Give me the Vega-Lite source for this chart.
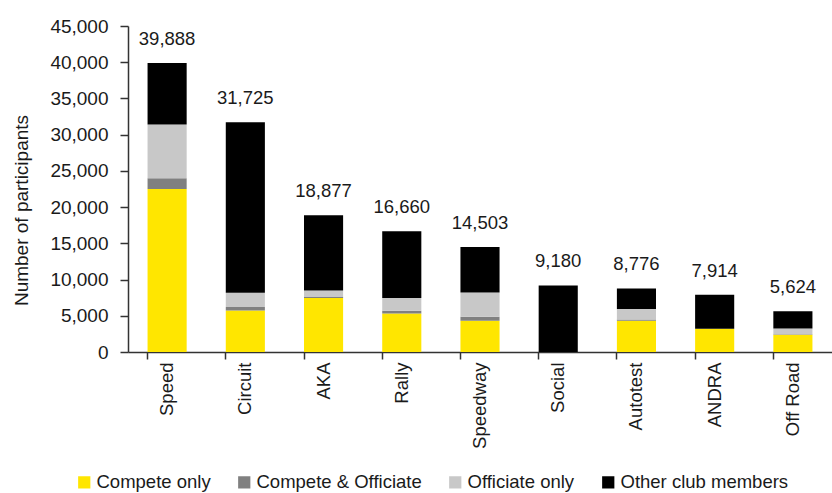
{
  "$schema": "https://vega.github.io/schema/vega-lite/v6.json",
  "width": 704,
  "height": 326,
  "autosize": {"type": "none"},
  "padding": {"left": 128, "top": 26, "right": 0, "bottom": 141},
  "background": "white",
  "config": {
    "view": {"stroke": null},
    "font": "Liberation Sans",
    "axis": {"labelFont": "Liberation Sans", "titleFont": "Liberation Sans", "labelColor": "#1a1a1a", "titleColor": "#1a1a1a", "domainColor": "#333333", "tickColor": "#333333", "grid": false, "titleFontWeight": "normal"},
    "legend": {"labelFont": "Liberation Sans", "labelColor": "#1a1a1a"}
  },
  "datasets": {
    "segments": [
      {"category": "Speed", "type": "Compete only", "ord": 1, "value": 22500},
      {"category": "Speed", "type": "Compete & Officiate", "ord": 2, "value": 1500},
      {"category": "Speed", "type": "Officiate only", "ord": 3, "value": 7400},
      {"category": "Speed", "type": "Other club members", "ord": 4, "value": 8488},
      {"category": "Circuit", "type": "Compete only", "ord": 1, "value": 5740},
      {"category": "Circuit", "type": "Compete & Officiate", "ord": 2, "value": 460},
      {"category": "Circuit", "type": "Officiate only", "ord": 3, "value": 1980},
      {"category": "Circuit", "type": "Other club members", "ord": 4, "value": 23545},
      {"category": "AKA", "type": "Compete only", "ord": 1, "value": 7450},
      {"category": "AKA", "type": "Compete & Officiate", "ord": 2, "value": 140},
      {"category": "AKA", "type": "Officiate only", "ord": 3, "value": 910},
      {"category": "AKA", "type": "Other club members", "ord": 4, "value": 10377},
      {"category": "Rally", "type": "Compete only", "ord": 1, "value": 5330},
      {"category": "Rally", "type": "Compete & Officiate", "ord": 2, "value": 370},
      {"category": "Rally", "type": "Officiate only", "ord": 3, "value": 1750},
      {"category": "Rally", "type": "Other club members", "ord": 4, "value": 9210},
      {"category": "Speedway", "type": "Compete only", "ord": 1, "value": 4320},
      {"category": "Speedway", "type": "Compete & Officiate", "ord": 2, "value": 550},
      {"category": "Speedway", "type": "Officiate only", "ord": 3, "value": 3350},
      {"category": "Speedway", "type": "Other club members", "ord": 4, "value": 6283},
      {"category": "Social", "type": "Compete only", "ord": 1, "value": 0},
      {"category": "Social", "type": "Compete & Officiate", "ord": 2, "value": 0},
      {"category": "Social", "type": "Officiate only", "ord": 3, "value": 0},
      {"category": "Social", "type": "Other club members", "ord": 4, "value": 9180},
      {"category": "Autotest", "type": "Compete only", "ord": 1, "value": 4320},
      {"category": "Autotest", "type": "Compete & Officiate", "ord": 2, "value": 180},
      {"category": "Autotest", "type": "Officiate only", "ord": 3, "value": 1430},
      {"category": "Autotest", "type": "Other club members", "ord": 4, "value": 2846},
      {"category": "ANDRA", "type": "Compete only", "ord": 1, "value": 3210},
      {"category": "ANDRA", "type": "Compete & Officiate", "ord": 2, "value": 0},
      {"category": "ANDRA", "type": "Officiate only", "ord": 3, "value": 0},
      {"category": "ANDRA", "type": "Other club members", "ord": 4, "value": 4704},
      {"category": "Off Road", "type": "Compete only", "ord": 1, "value": 2390},
      {"category": "Off Road", "type": "Compete & Officiate", "ord": 2, "value": 50},
      {"category": "Off Road", "type": "Officiate only", "ord": 3, "value": 820},
      {"category": "Off Road", "type": "Other club members", "ord": 4, "value": 2364}
    ],
    "totals": [
      {"category": "Speed", "total": 39888},
      {"category": "Circuit", "total": 31725},
      {"category": "AKA", "total": 18877},
      {"category": "Rally", "total": 16660},
      {"category": "Speedway", "total": 14503},
      {"category": "Social", "total": 9180},
      {"category": "Autotest", "total": 8776},
      {"category": "ANDRA", "total": 7914},
      {"category": "Off Road", "total": 5624}
    ]
  },
  "layer": [
    {
      "data": {"name": "segments"},
      "mark": {"type": "bar"},
      "encoding": {
        "x": {
          "field": "category", "type": "nominal",
          "sort": ["Speed", "Circuit", "AKA", "Rally", "Speedway", "Social", "Autotest", "ANDRA", "Off Road"],
          "scale": {"paddingInner": 0.5, "paddingOuter": 0.25},
          "axis": {"title": null, "labelAngle": -90, "labelAlign": "right", "labelBaseline": "middle", "labelFontSize": 18.5, "labelPadding": 3, "tickSize": 7, "bandPosition": 0, "domainWidth": 1.5, "tickWidth": 1.5}
        },
        "y": {
          "field": "value", "type": "quantitative", "stack": "zero",
          "scale": {"domain": [0, 45000], "nice": false},
          "axis": {"title": "Number of participants", "values": [0, 5000, 10000, 15000, 20000, 25000, 30000, 35000, 40000, 45000], "format": ",d", "labelOverlap": false, "labelFontSize": 19, "tickSize": 8, "labelPadding": 12, "titleFontSize": 19, "titleAngle": -90, "titleX": -107, "titleY": 184, "titleAlign": "center", "titleBaseline": "middle", "domainWidth": 1.5, "tickWidth": 1.5}
        },
        "color": {
          "field": "type", "type": "nominal",
          "scale": {"domain": ["Compete only", "Compete & Officiate", "Officiate only", "Other club members"], "range": ["#FFE600", "#808080", "#C8C8C8", "#000000"]},
          "legend": {"title": null, "orient": "none", "direction": "horizontal", "legendX": -53, "legendY": 447, "symbolType": "square", "symbolSize": 150, "symbolStrokeWidth": 0, "labelFontSize": 18.5, "labelLimit": 400, "labelOffset": 3, "columnPadding": 24}
        },
        "order": {"field": "ord", "type": "quantitative"}
      }
    },
    {
      "data": {"name": "totals"},
      "mark": {"type": "text", "fontSize": 18.5, "baseline": "alphabetic", "dy": -18, "color": "#1a1a1a"},
      "encoding": {
        "x": {
          "field": "category", "type": "nominal",
          "sort": ["Speed", "Circuit", "AKA", "Rally", "Speedway", "Social", "Autotest", "ANDRA", "Off Road"],
          "axis": {"title": null, "labelAngle": -90, "labelAlign": "right", "labelBaseline": "middle", "labelFontSize": 18.5, "labelPadding": 3, "tickSize": 7, "bandPosition": 0, "domainWidth": 1.5, "tickWidth": 1.5}
        },
        "y": {
          "field": "total", "type": "quantitative",
          "axis": {"title": "Number of participants", "values": [0, 5000, 10000, 15000, 20000, 25000, 30000, 35000, 40000, 45000], "format": ",d", "labelOverlap": false, "labelFontSize": 19, "tickSize": 8, "labelPadding": 12, "titleFontSize": 19, "titleAngle": -90, "titleX": -107, "titleY": 184, "titleAlign": "center", "titleBaseline": "middle", "domainWidth": 1.5, "tickWidth": 1.5}
        },
        "text": {"field": "total", "type": "quantitative", "format": ","}
      }
    }
  ]
}
